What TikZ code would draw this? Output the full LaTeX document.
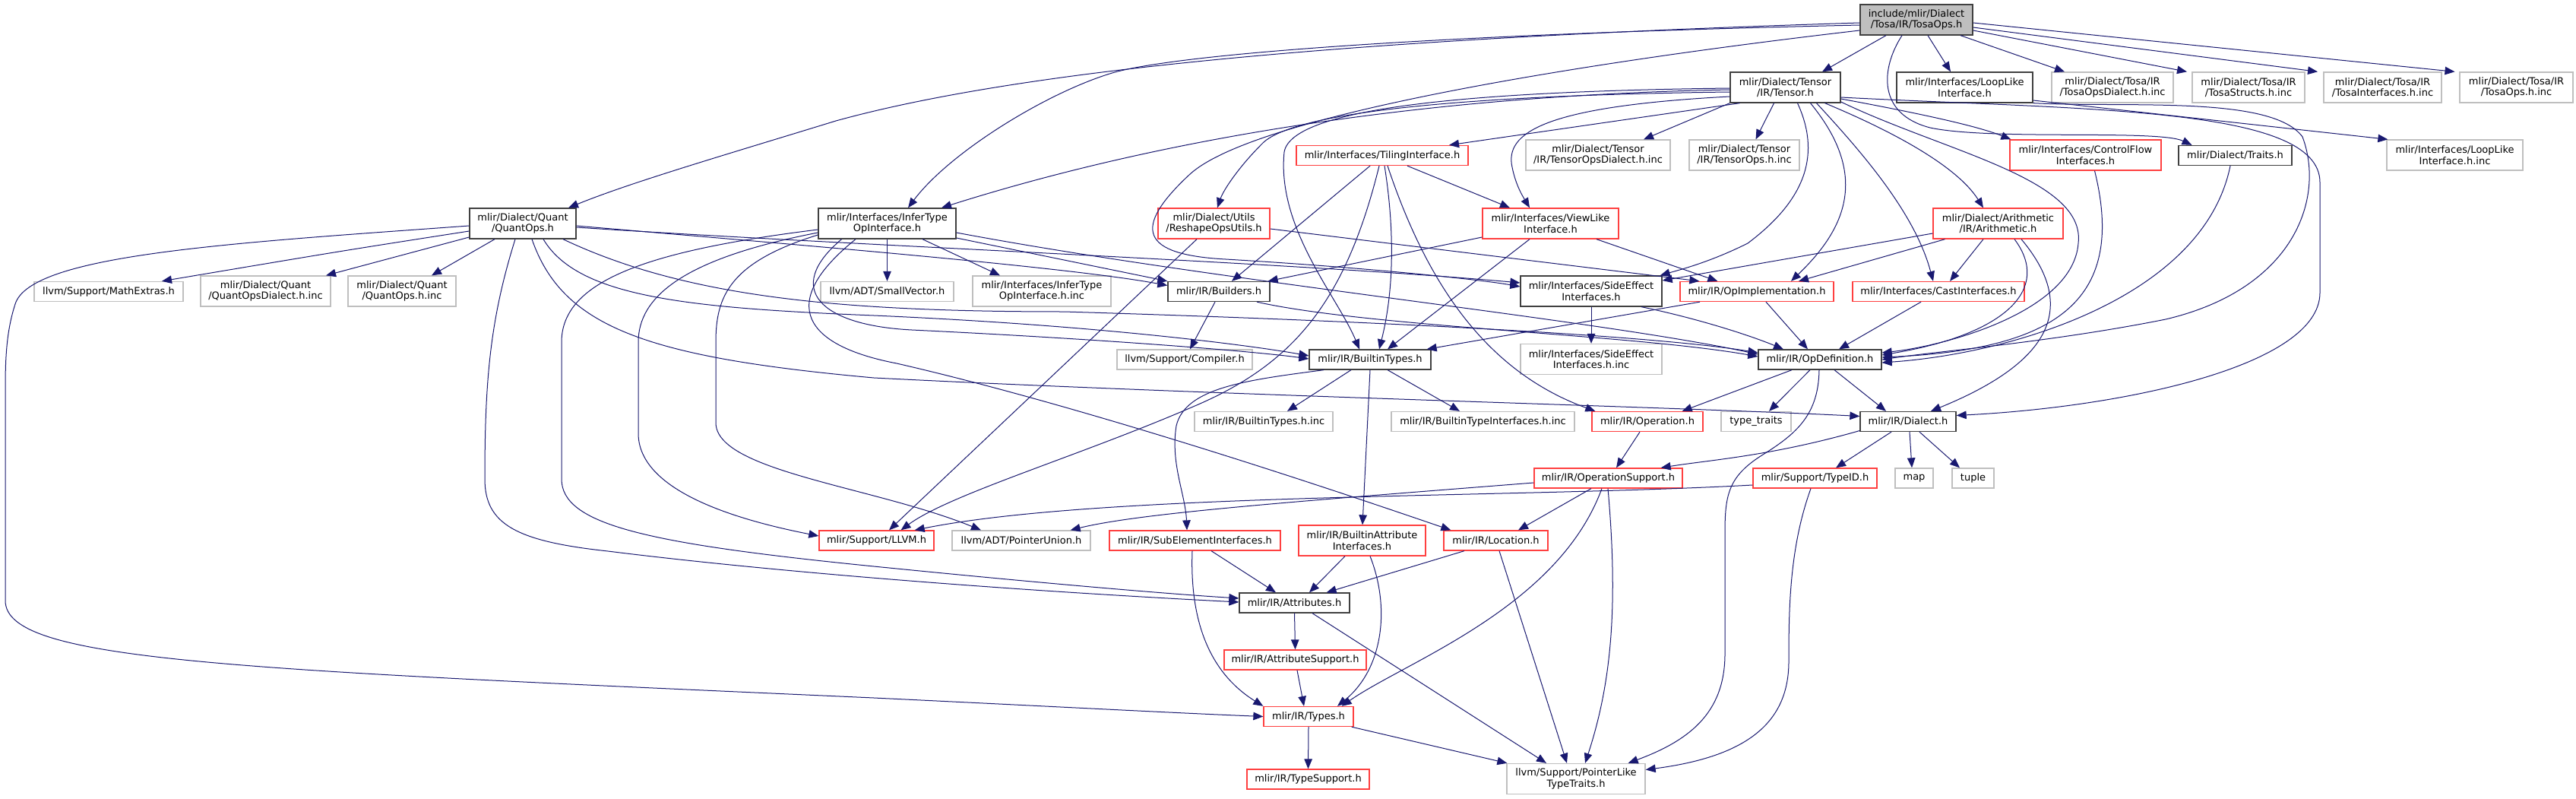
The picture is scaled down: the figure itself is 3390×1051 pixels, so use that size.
\documentclass[tikz,border=0pt]{standalone}
\usepackage{fontspec}
\setmainfont{DejaVu Sans}
\usetikzlibrary{arrows.meta,calc}
\definecolor{mblue}{RGB}{25,25,112}
\definecolor{gborder}{RGB}{191,191,191}
\definecolor{rborder}{RGB}{255,64,64}
\definecolor{kborder}{RGB}{64,64,64}
\definecolor{topfill}{RGB}{191,191,191}
\newcommand\nn[6]{\node[#1,minimum width=#2pt,minimum height=#3pt] (#4) at (#5) {#6};}
\begin{document}
\begin{tikzpicture}[x=1pt,y=-1pt,
  nb/.style={draw=kborder,line width=1.3pt,fill=white,inner sep=0pt,align=center,font=\fontsize{13}{14.5}\selectfont},
  ng/.style={nb,draw=gborder},
  nr/.style={nb,draw=rborder},
  e/.style={draw=mblue,line width=1.0pt,-{Triangle[length=13pt,width=10.5pt]}}]
\useasboundingbox[fill=white] (0,0) rectangle (3390,1051);
% row 1-2
\nn{nb,fill=topfill}{148}{40}{top}{2522,26}{include/mlir/Dialect\\/Tosa/IR/TosaOps.h}
\nn{nb}{145}{40}{T}{2349.5,115}{mlir/Dialect/Tensor\\/IR/Tensor.h}
\nn{nb}{179}{40}{LLI}{2585.5,115}{mlir/Interfaces/LoopLike\\Interface.h}
\nn{ng}{160}{40}{TOD}{2780,115}{mlir/Dialect/Tosa/IR\\/TosaOpsDialect.h.inc}
\nn{ng}{148}{40}{TS}{2959,115}{mlir/Dialect/Tosa/IR\\/TosaStructs.h.inc}
\nn{ng}{155}{40}{TI}{3135.5,115}{mlir/Dialect/Tosa/IR\\/TosaInterfaces.h.inc}
\nn{ng}{149}{40}{TOI}{3311.5,115}{mlir/Dialect/Tosa/IR\\/TosaOps.h.inc}
% row 3
\nn{nr}{226}{26}{TIL}{1819,204.5}{mlir/Interfaces/TilingInterface.h}
\nn{ng}{190}{40}{TensOD}{2103,204}{mlir/Dialect/Tensor\\/IR/TensorOpsDialect.h.inc}
\nn{ng}{145}{40}{TensOps}{2295.5,204}{mlir/Dialect/Tensor\\/IR/TensorOps.h.inc}
\nn{nr}{199}{40}{CF}{2744.5,204}{mlir/Interfaces/ControlFlow\\Interfaces.h}
\nn{nb}{149}{26}{TR}{2941.5,204.5}{mlir/Dialect/Traits.h}
\nn{ng}{179}{40}{LLIinc}{3230.5,204}{mlir/Interfaces/LoopLike\\Interface.h.inc}
% row 4
\nn{nb}{140}{40}{QO}{688,294}{mlir/Dialect/Quant\\/QuantOps.h}
\nn{nb}{181}{40}{ITO}{1167.5,294}{mlir/Interfaces/InferType\\OpInterface.h}
\nn{nr}{147}{40}{RU}{1597.5,294}{mlir/Dialect/Utils\\/ReshapeOpsUtils.h}
\nn{nr}{179}{40}{VL}{2040.5,294}{mlir/Interfaces/ViewLike\\Interface.h}
\nn{nr}{171}{40}{AR}{2629.5,294}{mlir/Dialect/Arithmetic\\/IR/Arithmetic.h}
% row 5
\nn{ng}{196}{26}{ME}{143,383.5}{llvm/Support/MathExtras.h}
\nn{ng}{171}{40}{QODinc}{349.5,383}{mlir/Dialect/Quant\\/QuantOpsDialect.h.inc}
\nn{ng}{142}{40}{QOinc}{529,383}{mlir/Dialect/Quant\\/QuantOps.h.inc}
\nn{ng}{175}{26}{SV}{1167.5,383.5}{llvm/ADT/SmallVector.h}
\nn{ng}{182}{40}{ITOinc}{1371,383}{mlir/Interfaces/InferType\\OpInterface.h.inc}
\nn{nb}{134}{26}{BU}{1604,383.5}{mlir/IR/Builders.h}
\nn{nb}{186}{40}{SE}{2094,383}{mlir/Interfaces/SideEffect\\Interfaces.h}
\nn{nr}{202}{26}{OI}{2312,383.5}{mlir/IR/OpImplementation.h}
\nn{nr}{226}{26}{CI}{2551,383.5}{mlir/Interfaces/CastInterfaces.h}
% row 6
\nn{ng}{178}{26}{CO}{1559,473}{llvm/Support/Compiler.h}
\nn{nb}{160}{26}{BT}{1803,473}{mlir/IR/BuiltinTypes.h}
\nn{ng}{186}{40}{SEinc}{2094,472.5}{mlir/Interfaces/SideEffect\\Interfaces.h.inc}
\nn{nb}{162}{26}{OD}{2395,473}{mlir/IR/OpDefinition.h}
% row 7
\nn{ng}{182}{26}{BTinc}{1663,554.5}{mlir/IR/BuiltinTypes.h.inc}
\nn{ng}{241}{26}{BTIinc}{1951.5,554.5}{mlir/IR/BuiltinTypeInterfaces.h.inc}
\nn{nr}{146}{26}{OP}{2168,554.5}{mlir/IR/Operation.h}
\nn{ng}{92}{26}{TT}{2311,554.5}{type\_traits}
\nn{nb}{126}{26}{DI}{2511,554.5}{mlir/IR/Dialect.h}
% row 8
\nn{nr}{195}{26}{OS}{2116.5,629}{mlir/IR/OperationSupport.h}
\nn{nr}{163}{26}{TID}{2388.5,629}{mlir/Support/TypeID.h}
\nn{ng}{50}{26}{MAP}{2519,629}{map}
\nn{ng}{55}{26}{TUP}{2596.5,629}{tuple}
% row 9
\nn{nr}{151}{26}{LLVM}{1153.5,711}{mlir/Support/LLVM.h}
\nn{ng}{182}{26}{PU}{1344,711}{llvm/ADT/PointerUnion.h}
\nn{nr}{225}{26}{SEI}{1572.5,711}{mlir/IR/SubElementInterfaces.h}
\nn{nr}{167}{40}{BAI}{1792.5,711}{mlir/IR/BuiltinAttribute\\Interfaces.h}
\nn{nr}{137}{26}{LOC}{1968.5,711}{mlir/IR/Location.h}
% lower rows
\nn{nb}{145}{26}{AT}{1703.5,793}{mlir/IR/Attributes.h}
\nn{nr}{187}{26}{AS}{1704.5,868}{mlir/IR/AttributeSupport.h}
\nn{nr}{118}{26}{TY}{1722,942.5}{mlir/IR/Types.h}
\nn{nr}{161}{26}{TSup}{1721.5,1025}{mlir/IR/TypeSupport.h}
\nn{ng}{182}{40}{PLT}{2074,1024.5}{llvm/Support/PointerLike\\TypeTraits.h}

% ---- edges from TosaOps.h
\draw[e] ($(top.west)+(0,4)$) .. controls (1800,50) and (1350,90) .. (1100,159) .. controls (950,205) and (830,240) .. ($(QO.north)+(60,0)$);
\draw[e] ($(top.west)+(0,7)$) .. controls (1900,45) and (1560,70) .. (1467,95) .. controls (1380,120) and (1250,200) .. ($(ITO.north)+(27.5,0)$);
\draw[e] ($(top.south)+(-40,0)$) -- ($(T.north)+(48.5,0)$);
\draw[e] ($(top.south)+(15,0)$) -- ($(LLI.north)+(-18.5,0)$);
\draw[e] ($(top.south)+(58,0)$) -- ($(TOD.north)+(-63,0)$);
\draw[e] ($(top.east)+(0,14)$) -- ($(TS.north)+(-81,0)$);
\draw[e] ($(top.east)+(0,10)$) -- ($(TI.north)+(-85.5,0)$);
\draw[e] ($(top.east)+(0,4)$) -- ($(TOI.north)+(-81,0)$);
\draw[e] ($(top.south)+(-19,0)$) .. controls (2475,90) and (2470,150) .. (2540,168) .. controls (2620,185) and (2840,170) .. ($(TR.north)+(-57,0)$);
\draw[e] ($(top.west)+(0,14)$) .. controls (2100,80) and (1650,150) .. (1565,230) .. controls (1490,300) and (1500,335) .. (1613,341) .. controls (1800,352) and (1950,368) .. ($(SE.west)+(0,-6)$);
% ---- Tensor.h
\draw[e] ($(T.west)+(0,3)$) .. controls (1900,125) and (1550,175) .. ($(ITO.north)+(71.5,0)$);
\draw[e] ($(T.south)+(-60,0)$) -- ($(TIL.north)+(88,0)$);
\draw[e] (T.south west) -- ($(TensOD.north)+(60,0)$);
\draw[e] ($(T.south)+(-15,0)$) -- ($(TensOps.north)+(15,0)$);
\draw[e] ($(T.west)+(0,6)$) .. controls (1950,125) and (1700,145) .. (1660,190) .. controls (1630,220) and (1610,250) .. ($(RU.north)+(4.5,0)$);
\draw[e] ($(T.west)+(0,1)$) .. controls (1950,120) and (1700,140) .. (1690,200) .. controls (1680,300) and (1760,390) .. ($(BT.north)+(-14,0)$);
\draw[e] ($(T.west)+(0,12)$) .. controls (2030,140) and (1980,175) .. (1990,220) .. controls (1995,245) and (2005,260) .. ($(VL.north)+(-27.5,0)$);
\draw[e] ($(T.south)+(16,0)$) .. controls (2395,200) and (2380,260) .. (2300,320) .. controls (2250,345) and (2210,355) .. ($(SE.north east)+(-3,0)$);
\draw[e] ($(T.south)+(33,0)$) .. controls (2460,230) and (2430,300) .. ($(OI.north)+(45,0)$);
\draw[e] ($(T.south)+(41,0)$) .. controls (2450,200) and (2520,280) .. ($(CI.north)+(-7,0)$);
\draw[e] ($(T.south)+(52,0)$) .. controls (2460,160) and (2570,210) .. ($(AR.north)+(-19.5,0)$);
\draw[e] ($(T.east)+(0,15)$) .. controls (2520,148) and (2600,165) .. ($(CF.north west)+(2,0)$);
\draw[e] ($(T.east)+(0,19)$) .. controls (2560,200) and (2745,235) .. (2735,320) .. controls (2728,410) and (2560,455) .. ($(OD.east)+(0,-9)$);
\draw[e] ($(T.east)+(0,13)$) .. controls (2750,145) and (3053,140) .. (3053,240) -- (3053,385) .. controls (3053,480) and (2800,535) .. ($(DI.east)+(0,-8)$);
% ---- LoopLike, ControlFlow, Traits
\draw[e] ($(LLI.east)+(0,17)$) -- ($(LLIinc.north west)+(2,0)$);
\draw[e] (LLI.south east) .. controls (2800,142) and (2990,125) .. (3030,180) .. controls (3060,260) and (3020,380) .. (2850,420) .. controls (2700,450) and (2550,462) .. (OD.east);
\draw[e] ($(CF.south)+(12,0)$) .. controls (2800,400) and (2700,460) .. ($(OD.east)+(0,-3)$);
\draw[e] ($(TR.south)+(-6.5,0)$) .. controls (2900,390) and (2650,465) .. ($(OD.east)+(0,4)$);
% ---- Arithmetic
\draw[e] ($(AR.west)+(0,13)$) -- ($(SE.east)+(0,-14)$);
\draw[e] ($(AR.south)+(-70,0)$) -- ($(OI.north)+(55,0)$);
\draw[e] ($(AR.south)+(-19.5,0)$) -- ($(CI.north)+(15,0)$);
\draw[e] ($(AR.south)+(21.5,0)$) .. controls (2700,380) and (2640,440) .. ($(OD.east)+(0,-6)$);
\draw[e] ($(AR.south)+(30.5,0)$) .. controls (2740,410) and (2690,480) .. ($(DI.north)+(30,0)$);
% ---- SideEffect, OpImpl, Cast, Builders
\draw[e] (SE.south) -- (SEinc.north);
\draw[e] ($(SE.south)+(66,0)$) .. controls (2230,418) and (2300,440) .. ($(OD.north)+(-48,0)$);
\draw[e] ($(OI.south)+(-75,0)$) -- ($(BT.north east)+(-6,0)$);
\draw[e] ($(OI.south)+(12,0)$) -- ($(OD.north)+(-16,0)$);
\draw[e] ($(CI.south)+(-23,0)$) -- ($(OD.north)+(25,0)$);
\draw[e] ($(BU.south)+(-5,0)$) -- ($(CO.north)+(7,0)$);
\draw[e] ($(BU.south)+(50,0)$) .. controls (1800,430) and (2150,440) .. ($(OD.west)+(0,-4)$);
% ---- BuiltinTypes
\draw[e] ($(BT.south)+(-25,0)$) -- ($(BTinc.north)+(31,0)$);
\draw[e] (BT.south) -- ($(BAI.north)+(0.5,0)$);
\draw[e] ($(BT.south)+(23,0)$) -- ($(BTIinc.north)+(-30.5,0)$);
\draw[e] ($(BT.south)+(-61,0)$) .. controls (1640,500) and (1560,510) .. (1548,560) .. controls (1540,610) and (1560,650) .. ($(SEI.north)+(-10.5,0)$);
% ---- TilingInterface
\draw[e] ($(TIL.south)+(-16,0)$) -- ($(BU.north)+(17,0)$);
\draw[e] ($(TIL.south)+(-4,0)$) .. controls (1770,400) and (1700,480) .. (1570,535) .. controls (1420,600) and (1250,650) .. ($(LLVM.north)+(32,0)$);
\draw[e] ($(TIL.south)+(3,0)$) .. controls (1835,300) and (1835,380) .. ($(BT.north)+(12,0)$);
\draw[e] ($(TIL.south)+(7,0)$) .. controls (1880,380) and (1960,490) .. ($(OP.north west)+(5,0)$);
\draw[e] ($(TIL.south)+(33,0)$) -- ($(VL.north)+(-53.5,0)$);
% ---- ReshapeOpsUtils, ViewLike
\draw[e] ($(RU.east)+(0,7)$) -- ($(OI.north west)+(26,0)$);
\draw[e] ($(RU.south)+(-22.5,0)$) -- ($(LLVM.north)+(16.5,0)$);
\draw[e] ($(VL.west)+(0,18)$) -- ($(BU.north east)+(-3,0)$);
\draw[e] ($(VL.south)+(-27.5,0)$) -- ($(BT.north)+(23,0)$);
\draw[e] ($(VL.south)+(60.5,0)$) -- ($(OI.north west)+(50,0)$);
% ---- QuantOps
\draw[e] ($(QO.west)+(0,10)$) .. controls (450,330) .. ($(ME.north)+(70,0)$);
\draw[e] ($(QO.west)+(0,18)$) -- ($(QODinc.north)+(79.5,0)$);
\draw[e] ($(QO.south)+(-37,0)$) -- ($(QOinc.north)+(39,0)$);
\draw[e] ($(QO.west)+(0,3)$) .. controls (300,320) and (40,335) .. (20,400) .. controls (7,440) and (7,480) .. (7,520) -- (7,790) .. controls (7,870) and (300,880) .. (1150,918) .. controls (1400,930) and (1550,938) .. (TY.west);
\draw[e] ($(QO.south)+(-10,0)$) .. controls (645,420) and (638,500) .. (638,630) .. controls (638,690) and (680,712) .. (800,725) .. controls (1000,750) and (1300,775) .. ($(AT.west)+(0,-1)$);
\draw[e] ($(QO.south)+(12,0)$) .. controls (740,430) and (850,470) .. (1150,497) .. controls (1600,520) and (2200,535) .. ($(DI.west)+(0,-7)$);
\draw[e] ($(QO.south)+(27,0)$) .. controls (760,390) and (900,405) .. (1150,415) .. controls (1450,428) and (1650,455) .. ($(BT.west)+(0,-5)$);
\draw[e] ($(QO.south)+(53,0)$) .. controls (900,390) and (1100,410) .. (1400,410) .. controls (1900,425) and (2200,445) .. ($(OD.west)+(0,-9)$);
\draw[e] ($(QO.east)+(0,3)$) .. controls (1000,318) and (1400,350) .. ($(BU.west)+(0,-8)$);
\draw[e] ($(QO.east)+(0,5)$) .. controls (1100,322) and (1700,345) .. ($(SE.west)+(0,-11)$);
% ---- InferTypeOpInterface
\draw[e] (ITO.south) -- (SV.north);
\draw[e] ($(ITO.south)+(46.5,0)$) -- ($(ITOinc.north)+(-55,0)$);
\draw[e] ($(ITO.east)+(0,19)$) -- (BU.north west);
\draw[e] ($(ITO.east)+(0,12)$) .. controls (1600,370) and (2100,420) .. ($(OD.west)+(0,-7)$);
\draw[e] ($(ITO.west)+(0,8)$) .. controls (850,330) and (739,370) .. (739,450) -- (739,630) .. controls (739,690) and (850,715) .. (1150,745) .. controls (1400,770) and (1550,782) .. ($(AT.west)+(0,-6)$);
\draw[e] ($(ITO.west)+(0,12)$) .. controls (900,340) and (840,390) .. (840,450) -- (840,570) .. controls (840,640) and (950,680) .. ($(LLVM.west)+(0,-6)$);
\draw[e] ($(ITO.west)+(0,15)$) .. controls (960,345) and (942,390) .. (942,450) -- (942,556) .. controls (942,620) and (1150,640) .. ($(PU.north)+(-53,0)$);
\draw[e] ($(ITO.south)+(-60,0)$) .. controls (1030,380) and (1080,428) .. (1200,434) .. controls (1450,446) and (1650,462) .. ($(BT.west)+(0,-1)$);
\draw[e] ($(ITO.south)+(-41.5,0)$) .. controls (1020,400) and (1060,455) .. (1180,478) .. controls (1450,540) and (1800,660) .. ($(LOC.north west)+(10,0)$);
% ---- lower part
\draw[e] ($(SEI.south)+(21.5,0)$) -- ($(AT.north)+(-24.5,0)$);
\draw[e] ($(SEI.south)+(-3.5,0)$) .. controls (1565,830) and (1600,890) .. (TY.north west);
\draw[e] ($(BAI.south)+(-22.5,0)$) -- ($(AT.north)+(19.5,0)$);
\draw[e] ($(BAI.south)+(10.5,0)$) .. controls (1830,800) and (1820,880) .. ($(TY.north)+(38,0)$);
\draw[e] ($(LOC.south)+(-41.5,0)$) -- ($(AT.north east)+(-31,0)$);
\draw[e] ($(LOC.south)+(4.5,0)$) -- ($(PLT.north)+(-12,0)$);
\draw[e] (AT.south) -- (AS.north);
\draw[e] ($(AT.south)+(23.5,0)$) -- ($(PLT.north)+(-39,0)$);
\draw[e] ($(AS.south)+(2.5,0)$) -- ($(TY.north)+(-6,0)$);
\draw[e] (TY.south) -- (TSup.north);
\draw[e] ($(TY.south east)+(-3,0)$) -- ($(PLT.north west)+(1,0)$);
\draw[e] ($(OS.south)+(-22.5,0)$) -- ($(LOC.north)+(29.5,0)$);
\draw[e] ($(OS.south)+(-8.5,0)$) .. controls (2050,800) and (1850,870) .. ($(TY.north east)+(-16,0)$);
\draw[e] ($(OS.south)+(-0.5,0)$) .. controls (2130,800) and (2120,900) .. ($(PLT.north)+(12,0)$);
\draw[e] ($(OS.west)+(0,6)$) .. controls (1700,660) and (1500,675) .. ($(PU.north east)+(-27,0)$);
\draw[e] ($(TID.west)+(0,9)$) .. controls (2000,655) and (1450,648) .. ($(LLVM.north east)+(-26,0)$);
\draw[e] ($(TID.south)+(-5.5,0)$) .. controls (2355,720) and (2354,800) .. (2354,870) .. controls (2354,950) and (2300,995) .. ($(PLT.east)+(0,-12)$);
\draw[e] ($(DI.south)+(-22,0)$) -- ($(TID.north)+(27.5,0)$);
\draw[e] ($(DI.south)+(2,0)$) -- ($(MAP.north)+(-3,0)$);
\draw[e] ($(DI.south)+(15,0)$) -- ($(TUP.north)+(-17.5,0)$);
\draw[e] ($(DI.west)+(0,12)$) .. controls (2330,600) and (2250,605) .. ($(OS.north east)+(-29,0)$);
\draw[e] ($(OP.south)+(-10,0)$) -- ($(OS.north)+(10.5,0)$);
\draw[e] ($(OD.south)+(-37,0)$) -- ($(OP.north east)+(-28,0)$);
\draw[e] ($(OD.south)+(-13,0)$) -- ($(TT.north)+(17,0)$);
\draw[e] ($(OD.south)+(-1,0)$) .. controls (2393,545) and (2365,570) .. (2320,598) .. controls (2275,626) and (2270,650) .. (2270,700) -- (2270,860) .. controls (2270,940) and (2220,975) .. ($(PLT.north east)+(-23,0)$);
\draw[e] ($(OD.south)+(19,0)$) -- ($(DI.north)+(-29,0)$);
\end{tikzpicture}
\end{document}
